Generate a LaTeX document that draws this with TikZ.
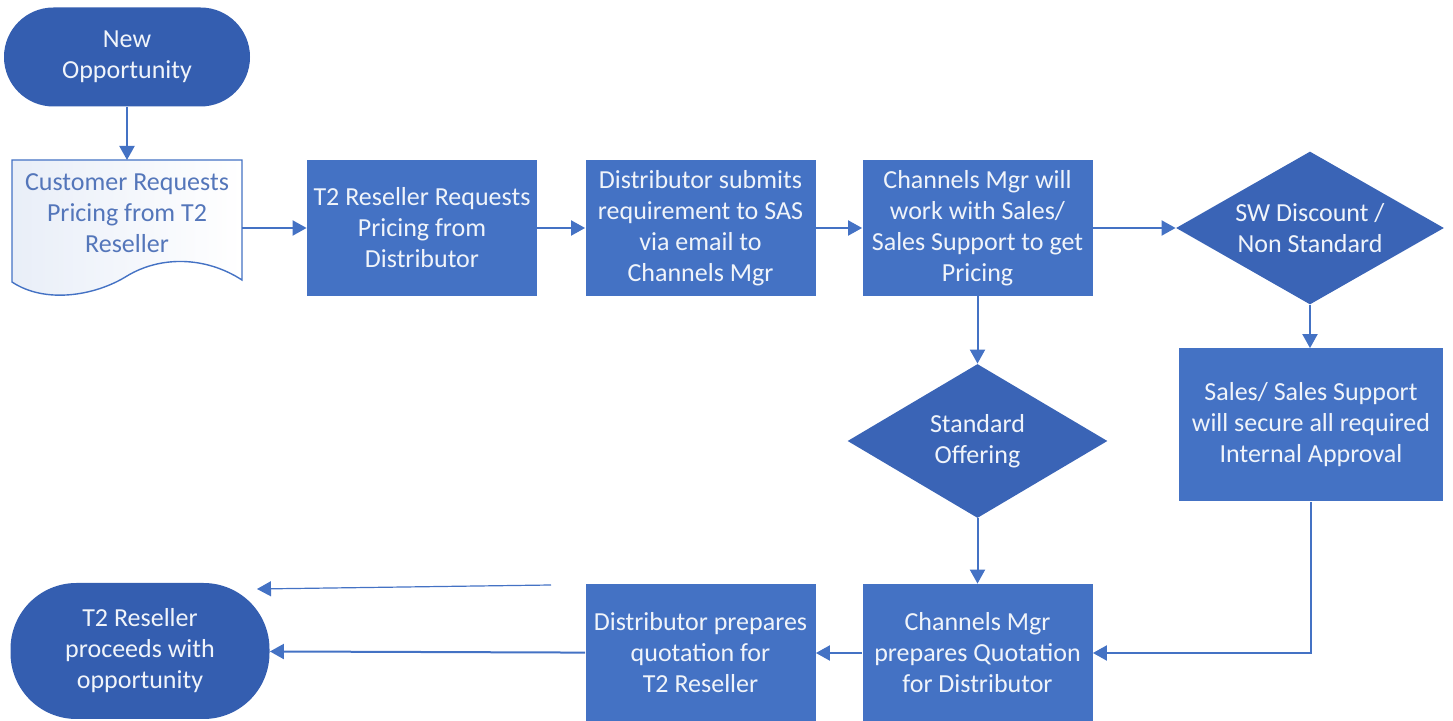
\documentclass[tikz,border=0pt]{standalone}
\usepackage{fontspec}
\setmainfont{Carlito}
\usetikzlibrary{shapes.geometric}
\usetikzlibrary{arrows.meta}

\definecolor{boxblue}{RGB}{68,114,196}
\definecolor{termblue}{RGB}{52,94,176}
\definecolor{decblue}{RGB}{58,100,182}
\definecolor{doctext}{RGB}{84,118,186}
\newcommand{\flowfont}{\fontsize{13}{15.5}\selectfont}

\begin{document}
\begin{tikzpicture}[
    x=0.5pt, y=-0.5pt, >={Triangle[length=7pt, width=7.5pt]},
    % node styles
    process/.style={
        rectangle,
        fill=boxblue,
        text=white!92!boxblue,
        align=center,
        font=\flowfont,
        inner sep=2pt,
        minimum width=115pt,
        minimum height=68pt
    },
    decision/.style={
        diamond,
        fill=decblue,
        text=white!92!boxblue,
        align=center,
        font=\flowfont,
        inner sep=0pt,
        shape aspect=1.75
    },
    terminal/.style={
        rectangle,
        fill=termblue,
        text=white!92!boxblue,
        align=center,
        font=\flowfont,
        inner sep=2pt
    },
    doc text/.style={
        align=center,
        font=\flowfont,
        text=doctext,
        minimum width=115pt,
        minimum height=53pt
    },
    % edge styles
    flow edge/.style={->, draw=boxblue, line width=1pt},
    thin edge/.style={->, draw=boxblue, line width=0.6pt}
]
\useasboundingbox (0,0) rectangle (1453,721);

% -------------------------------
% Start
\node[terminal, minimum width=123pt, minimum height=49.5pt, rounded corners=24.7pt]
    (start) at (127,57) {New\\Opportunity};

% Document shape
\path[draw=boxblue, line width=0.7pt, left color=boxblue!12, right color=white]
    (12,160) -- (242,160) -- (242,280)
    .. controls (205,256) and (160,256) .. (127,276)
    .. controls (95,296) and (45,304) .. (12,282) -- cycle;
\node[doc text] (cust) at (127,213) {Customer Requests\\Pricing from T2\\Reseller};

% -------------------------------
% Top row
\foreach \name/\x/\txt in {
    resreq/422/{T2 Reseller Requests\\Pricing from\\Distributor},
    distsub/700.5/{Distributor submits\\requirement to SAS\\via email to\\Channels Mgr},
    chanmgr/977.5/{Channels Mgr will\\work with Sales/\\Sales Support to get\\Pricing}}
{
    \node[process] (\name) at (\x,228) {\txt};
}

\node[decision, minimum width=134pt, minimum height=76.5pt] (swdisc) at (1310,228)
    {SW Discount /\\Non Standard};

% -------------------------------
% Middle
\node[process, minimum width=132pt, minimum height=76.5pt] (approval) at (1311,425)
    {Sales/ Sales Support\\will secure all required\\Internal Approval};
\node[decision, minimum width=130pt, minimum height=77pt] (stdoff) at (977.5,441)
    {Standard\\Offering};

% -------------------------------
% Bottom row
\node[process, minimum height=69pt] (chanquote) at (977.5,653)
    {Channels Mgr\\prepares Quotation\\for Distributor};
\node[process, minimum height=69pt] (distquote) at (700.5,653)
    {Distributor prepares\\quotation for\\T2 Reseller};
\node[terminal, minimum width=129.5pt, minimum height=68pt, rounded corners=33pt]
    (finish) at (140,651) {T2 Reseller\\proceeds with\\opportunity};

% -------------------------------
% Connectors
\draw[flow edge] (start) -- (cust.north |- 0,160);
\draw[flow edge] (resreq.west -| cust.east) -- (resreq.west);
\draw[flow edge] (resreq) -- (distsub);
\draw[flow edge] (distsub) -- (chanmgr);
\draw[flow edge] (chanmgr) -- (swdisc);
\draw[flow edge] (chanmgr) -- (stdoff);
\draw[flow edge] (swdisc.south) -- (swdisc.south |- approval.north);
\draw[flow edge] (stdoff) -- (chanquote);
\draw[flow edge] (approval.south) |- (chanquote.east);
\draw[flow edge] (chanquote) -- (distquote);
\draw[flow edge] (distquote) -- (finish);

% stray arrow
\coordinate (stray-start) at (551,585);
\coordinate (stray-end) at (257,589);
\draw[thin edge] (stray-start) -- (stray-end);

\end{tikzpicture}
\end{document}
